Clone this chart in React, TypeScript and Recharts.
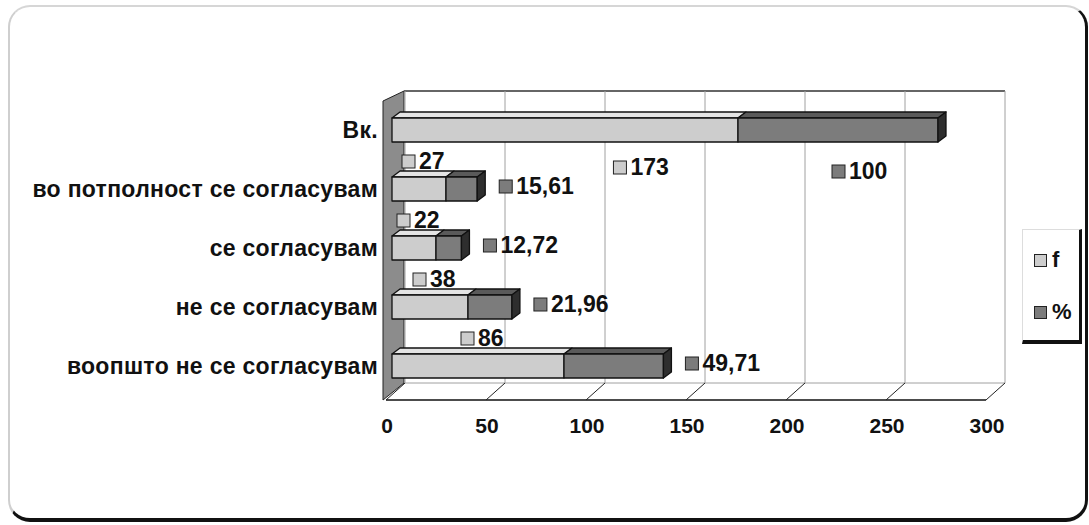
import { BarChart, Bar, XAxis, YAxis, CartesianGrid, LabelList } from 'recharts'

const categories = [
  'Вк.',
  'во потполност се согласувам',
  'се согласувам',
  'не се согласувам',
  'воопшто не се согласувам',
]
const fValues = [173, 27, 22, 38, 86]
const pctValues = [100, 15.61, 12.72, 21.96, 49.71]
const xTicks = [0, 50, 100, 150, 200, 250, 300]

const data = categories.map((name, i) => ({ name, f: fValues[i], pct: pctValues[i] }))

const W = 1089
const H = 525
const FONT = '"Liberation Sans", Arial, sans-serif'

// bar depth
const BDX = 8
const BDY = 6
// back wall offset
const WDX = 13
const WALL_TOP = 91
const WALL_BOTTOM = 383

const F_FRONT = '#cdcdcd'
const F_TOP = '#e4e4e4'
const P_FRONT = '#7c7c7c'
const P_TOP = '#5a5a5a'
const P_SIDE = '#2e2e2e'

const fmt = (v: number) => String(v).replace('.', ',')

const box = (p: any) => {
  const vb = p.viewBox ?? {}
  return {
    x: Number(p.x ?? vb.x),
    y: Number(p.y ?? vb.y),
    width: Number(p.width ?? vb.width),
    height: Number(p.height ?? vb.height),
  }
}

function make3D(front: string, top: string, withSide: boolean) {
  return (props: any) => {
    const { x, y, width, height } = props
    if (!width || !height) return <g />
    return (
      <g stroke="#111" strokeWidth={1.3} strokeLinejoin="round">
        <polygon
          points={`${x},${y} ${x + BDX},${y - BDY} ${x + width + BDX},${y - BDY} ${x + width},${y}`}
          fill={top}
        />
        <rect x={x} y={y} width={width} height={height} fill={front} />
        {withSide && (
          <polygon
            points={`${x + width},${y} ${x + width + BDX},${y - BDY} ${x + width + BDX},${y + height - BDY} ${x + width},${y + height}`}
            fill={P_SIDE}
          />
        )}
      </g>
    )
  }
}

const Tag = ({ sx, cy, fill, text }: { sx: number; cy: number; fill: string; text: string }) => (
  <g>
    <rect x={sx} y={cy - 6} width={13} height={13} fill={fill} stroke="#222" strokeWidth={1} />
    <text x={sx + 17} y={cy + 8} fontFamily={FONT} fontWeight="bold" fontSize={23} fill="#111">
      {text}
    </text>
  </g>
)

const FLabel = (props: any) => {
  const { x, y, width, height } = box(props)
  const i = props.index
  if (i === 0) return <Tag sx={x + width * 0.64} cy={y + height + 25} fill={F_FRONT} text={fmt(fValues[i])} />
  return <Tag sx={x + width / 2 - 17} cy={y - 16} fill={F_FRONT} text={fmt(fValues[i])} />
}

const PLabel = (props: any) => {
  const { x, y, width, height } = box(props)
  const i = props.index
  if (i === 0) return <Tag sx={x + width * 0.47} cy={y + height + 29} fill={P_FRONT} text={fmt(pctValues[i])} />
  return <Tag sx={x + width + 22} cy={y + height / 2 - 3} fill={P_FRONT} text={fmt(pctValues[i])} />
}

const XTick = (props: any) => {
  const { x, y, payload } = props
  return (
    <g>
      <line x1={x - 6} y1={y + 5} x2={x + WDX} y2={WALL_BOTTOM} stroke="#222" strokeWidth={1} />
      <text x={x - 5} y={y + 38} textAnchor="middle" fontFamily={FONT} fontWeight="bold" fontSize={21} fill="#111">
        {payload.value}
      </text>
    </g>
  )
}

const YTick = (props: any) => {
  const { x, y, payload } = props
  return (
    <text x={x} y={y + 8} textAnchor="end" fontFamily={FONT} fontWeight="bold" fontSize={23} letterSpacing={0.3} fill="#111">
      {payload.value}
    </text>
  )
}

const vGen = ({ xAxis, offset }: any) =>
  xTicks.map(
    (t) =>
      (xAxis && typeof xAxis.scale === 'function' ? xAxis.scale(t) : offset.left + (t / 300) * offset.width) + WDX
  )

export default function App() {
  return (
    <div style={{ position: 'fixed', left: 0, top: 0, width: W, height: H, background: '#fff', overflow: 'hidden' }}>
      <div
        style={{
          position: 'absolute',
          left: 8,
          top: 5,
          width: 1080,
          height: 517,
          boxSizing: 'border-box',
          borderRadius: 22,
          borderTop: '2px solid #d6d6d6',
          borderLeft: '2px solid #cfcfcf',
          borderRight: '3px solid #111',
          borderBottom: '4px solid #111',
        }}
      />
      <svg width={W} height={H} style={{ position: 'absolute', left: 0, top: 0 }}>
        <polygon points={`383,101 404,${WALL_TOP} 404,${WALL_BOTTOM} 383,400`} fill="#8c8c8c" stroke="#222" strokeWidth={1} />
        <line x1={404} y1={WALL_TOP} x2={1005} y2={WALL_TOP} stroke="#333" strokeWidth={1.5} />
      </svg>
      <div style={{ position: 'absolute', left: 0, top: 0 }}>
        <BarChart
          width={W}
          height={H}
          data={data}
          layout="vertical"
          margin={{ top: 100, right: 97, bottom: 100, left: 12 }}
          barSize={24}
        >
          <CartesianGrid
            x={404}
            y={WALL_TOP}
            width={601}
            height={WALL_BOTTOM - WALL_TOP}
            stroke="#a0a0a0"
            fill="none"
            verticalCoordinatesGenerator={vGen}
            horizontalCoordinatesGenerator={() => [WALL_BOTTOM]}
          />
          <XAxis
            type="number"
            domain={[0, 300]}
            ticks={xTicks}
            interval={0}
            height={30}
            tickSize={0}
            tickMargin={0}
            tickLine={false}
            axisLine={{ stroke: '#111', strokeWidth: 1.5, transform: 'translate(-6,5)' } as any}
            tick={<XTick />}
          />
          <YAxis
            type="category"
            dataKey="name"
            width={380}
            tickSize={0}
            tickMargin={14}
            tickLine={false}
            axisLine={false}
            tick={<YTick />}
          />
          <Bar dataKey="f" stackId="a" fill={F_FRONT} shape={make3D(F_FRONT, F_TOP, false)} isAnimationActive={false}>
            <LabelList dataKey="f" content={<FLabel />} />
          </Bar>
          <Bar dataKey="pct" stackId="a" fill={P_FRONT} shape={make3D(P_FRONT, P_TOP, true)} isAnimationActive={false}>
            <LabelList dataKey="pct" content={<PLabel />} />
          </Bar>
        </BarChart>
      </div>
      <div
        style={{
          position: 'absolute',
          left: 1022,
          top: 229,
          width: 60,
          height: 115,
          boxSizing: 'border-box',
          borderTop: '1px solid #ddd',
          borderLeft: '1px solid #ddd',
          borderRight: '3px solid #111',
          borderBottom: '4px solid #111',
          fontFamily: FONT,
          fontWeight: 'bold',
          fontSize: 22,
          color: '#111',
        }}
      >
        {[
          { name: 'f', color: F_FRONT, top: 17 },
          { name: '%', color: P_FRONT, top: 69 },
        ].map((it) => (
          <div key={it.name} style={{ position: 'absolute', left: 11, top: it.top, display: 'flex', alignItems: 'center' }}>
            <span style={{ display: 'inline-block', width: 11, height: 11, background: it.color, border: '1px solid #222', marginRight: 5 }} />
            <span>{it.name}</span>
          </div>
        ))}
      </div>
    </div>
  )
}
